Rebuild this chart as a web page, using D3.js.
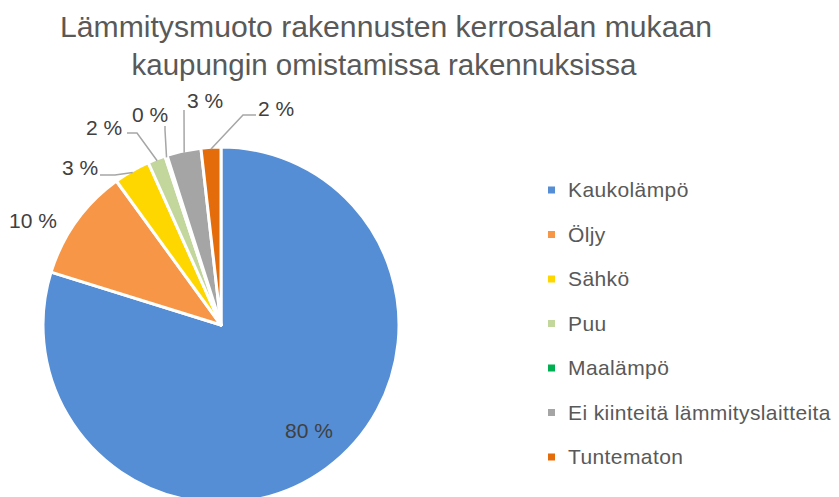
<!DOCTYPE html>
<html>
<head>
<meta charset="utf-8">
<script src="https://cdn.jsdelivr.net/npm/d3@7"></script>
<style>
  html, body { margin: 0; padding: 0; background: #fff; }
  svg { display: block; }
  text { font-family: "Liberation Sans", Arial, sans-serif; }
  .title { font-family: "Liberation Sans Narrow", "Liberation Sans", sans-serif; }
</style>
</head>
<body>
<svg id="chart" width="839" height="497"></svg>
<script>
// ---- data ----
const categories = ["Kaukolämpö", "Öljy", "Sähkö", "Puu", "Maalämpö", "Ei kiinteitä lämmityslaitteita", "Tuntematon"];
const values = [79.8, 10.2, 3.3, 1.6, 0.2, 3.1, 1.8];
const labels = ["80 %", "10 %", "3 %", "2 %", "0 %", "3 %", "2 %"];
const colors = ["#558ED5", "#F79646", "#FFD700", "#C3D69B", "#00B050", "#A5A5A5", "#E46C0A"];
const titleLines = ["Lämmitysmuoto rakennusten kerrosalan mukaan", "kaupungin omistamissa rakennuksissa"];

// ---- layout (not data) ----
const W = 839, H = 497;
const cx = 221, cy = 325, R = 178;
// label text centre and leader-line path points (start, elbow); end is computed on the arc
const labelLayout = [
  { x: 309, y: 431, line: null },
  { x: 33,  y: 221, line: null },
  { x: 80,  y: 168, line: [[100, 175], [115, 175]] },
  { x: 104, y: 128, line: [[127, 133], [137, 133]] },
  { x: 150, y: 115, line: [[165, 126], [165, 130]] },
  { x: 205, y: 101, line: [[184, 110], [184, 112]] },
  { x: 276, y: 109, line: [[256, 115], [243, 115]] }
];

const svg = d3.select("#chart");

// title
svg.append("g").selectAll("text").data(titleLines).join("text")
  .attr("class", "title")
  .attr("x", (d, i) => i === 0 ? 386 : 384)
  .attr("y", (d, i) => 37 + i * 38)
  .attr("text-anchor", "middle")
  .attr("font-size", 30)
  .attr("fill", "#595959")
  .attr("textLength", (d, i) => i === 0 ? 652 : 505)
  .attr("lengthAdjust", "spacingAndGlyphs")
  .text(d => d);

// pie
const pie = d3.pie().sort(null).value(d => d)
  .startAngle(0).endAngle(2 * Math.PI);
const arcs = pie(values);
const arc = d3.arc().innerRadius(0).outerRadius(R);
const edgeArc = d3.arc().innerRadius(R).outerRadius(R);

const g = svg.append("g").attr("transform", `translate(${cx},${cy})`);
g.selectAll("path").data(arcs).join("path")
  .attr("d", arc)
  .attr("fill", (d, i) => colors[i])
  .attr("stroke", "#fff")
  .attr("stroke-width", 3)
  .attr("stroke-linejoin", "round");

// leader lines
const lines = svg.append("g");
arcs.forEach((a, i) => {
  const L = labelLayout[i];
  if (!L.line) return;
  const c = edgeArc.centroid(a);
  const end = [cx + c[0] * 0.99, cy + c[1] * 0.99];
  const pts = L.line.concat([end]);
  lines.append("path")
    .attr("d", d3.line()(pts))
    .attr("fill", "none")
    .attr("stroke", "#A6A6A6")
    .attr("stroke-width", 1.5);
});

// data labels
svg.append("g").selectAll("text").data(arcs).join("text")
  .attr("x", (d, i) => labelLayout[i].x)
  .attr("y", (d, i) => labelLayout[i].y)
  .attr("dy", "0.35em")
  .attr("text-anchor", "middle")
  .attr("font-size", 21)
  .attr("fill", "#404040")
  .text((d, i) => labels[i]);

// legend
const legend = svg.append("g");
const ly = d3.scalePoint().domain(categories).range([190, 457]);
const items = legend.selectAll("g").data(categories).join("g")
  .attr("transform", d => `translate(548,${ly(d)})`);
items.append("rect")
  .attr("x", 0).attr("y", -3.5).attr("width", 7).attr("height", 7)
  .attr("fill", (d, i) => colors[i]);
items.append("text")
  .attr("x", 20).attr("y", 0).attr("dy", "0.35em")
  .attr("font-size", 21)
  .attr("letter-spacing", 0.4)
  .attr("fill", "#595959")
  .text(d => d);
</script>
</body>
</html>
